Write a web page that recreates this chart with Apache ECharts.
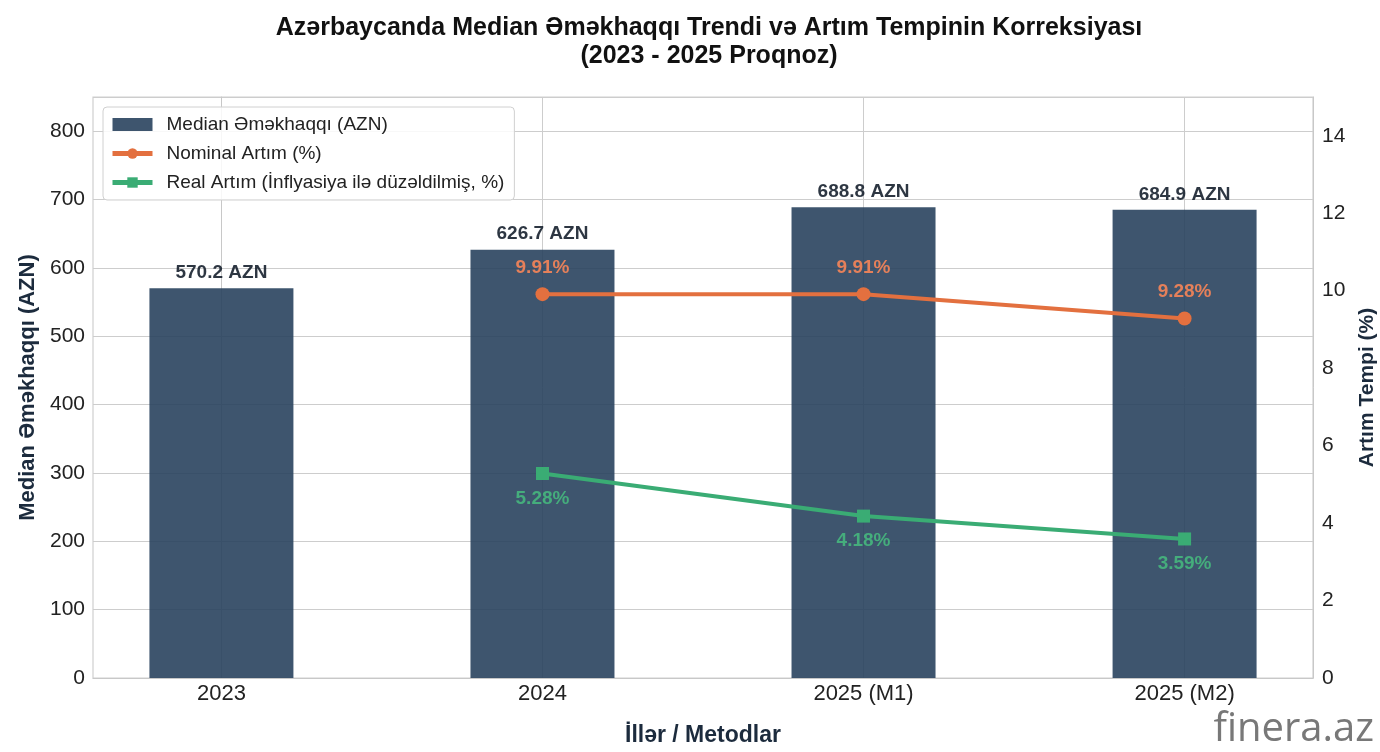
<!DOCTYPE html>
<html>
<head>
<meta charset="utf-8">
<script src="https://cdn.jsdelivr.net/npm/echarts@6/dist/echarts.min.js"></script>
<style>html,body{margin:0;padding:0;background:#fff;}#c{width:1380px;height:752px;}</style>
</head>
<body>
<div id="c"></div>
<script>
const categories = ['2023', '2024', '2025 (M1)', '2025 (M2)'];
const medianWage = [570.2, 626.7, 688.8, 684.9];
const nominalGrowth = [null, 9.91, 9.91, 9.28];
const realGrowth = [null, 5.28, 4.18, 3.59];

const FONT = '"Liberation Sans", Arial, sans-serif';
const idx = categories.map((c, i) => i);
const barData = medianWage.map((v, i) => [i, v]);
const nomData = nominalGrowth.map((v, i) => v == null ? null : [i, v]).filter(d => d);
const realData = realGrowth.map((v, i) => v == null ? null : [i, v]).filter(d => d);

const chart = echarts.init(document.getElementById('c'), null, {renderer: 'canvas'});
chart.setOption({
  backgroundColor: '#ffffff',
  animation: false,
  textStyle: {fontFamily: FONT},
  title: {
    text: 'Azərbaycanda Median Əməkhaqqı Trendi və Artım Tempinin Korreksiyası\n(2023 - 2025 Proqnoz)',
    left: 704, top: 9, textAlign: 'center',
    textStyle: {fontFamily: FONT, fontSize: 25, fontWeight: 'bold', color: '#111', lineHeight: 28}
  },
  grid: {left: 93, right: 67, top: 97, bottom: 74, show: true, borderColor: '#cfcfcf', borderWidth: 1.2, outerBoundsMode: 'none', containLabel: false},
  legend: {
    orient: 'vertical', left: 103, top: 107,
    padding: [8, 10, 8, 7],
    itemGap: 10, itemWidth: 40, itemHeight: 13,
    backgroundColor: 'rgba(255,255,255,0.85)', borderColor: '#d0d0d0', borderWidth: 1, borderRadius: 4,
    textStyle: {fontFamily: FONT, fontSize: 19, color: '#222', padding: [0, 0, 0, 9]},
    data: [
      {name: 'Median Əməkhaqqı (AZN)', icon: 'rect'},
      {name: 'Nominal Artım (%)', lineStyle: {width: 5}},
      {name: 'Real Artım (İnflyasiya ilə düzəldilmiş, %)', lineStyle: {width: 5}}
    ]
  },
  xAxis: {
    type: 'value', min: -0.4, max: 3.4,
    name: 'İllər / Metodlar', nameLocation: 'middle', nameGap: 46,
    nameTextStyle: {fontFamily: FONT, fontSize: 23, fontWeight: 'bold', color: '#1c2b3d'},
    axisLine: {show: true, lineStyle: {color: '#c8c8c8'}},
    axisTick: {show: false},
    splitLine: {show: false},
    axisLabel: {
      customValues: idx, fontSize: 22, color: '#222', margin: 5,
      formatter: v => categories[Math.round(v)]
    }
  },
  yAxis: [
    {
      type: 'value', min: 0, max: 850, interval: 100,
      name: 'Median Əməkhaqqı (AZN)', nameLocation: 'middle', nameGap: 53,
      nameTextStyle: {fontFamily: FONT, fontSize: 22, fontWeight: 'bold', color: '#1c2b3d'},
      axisLine: {show: true, lineStyle: {color: '#c8c8c8'}},
      axisTick: {show: false},
      axisLabel: {fontSize: 21, color: '#222', margin: 8, showMaxLabel: false},
      splitLine: {show: true, lineStyle: {color: '#cdcdcd', width: 1}}
    },
    {
      type: 'value', min: 0, max: 15, interval: 2,
      name: 'Artım Tempi (%)', nameLocation: 'middle', nameGap: 42,
      nameTextStyle: {fontFamily: FONT, fontSize: 21, fontWeight: 'bold', color: '#1c2b3d'},
      axisLine: {show: true, lineStyle: {color: '#c8c8c8'}},
      axisTick: {show: false},
      axisLabel: {fontSize: 21, color: '#222', margin: 9, showMaxLabel: false},
      splitLine: {show: false}
    }
  ],
  series: [
    {
      name: 'vgrid', type: 'scatter', data: [], silent: true, z: 0,
      markLine: {
        silent: true, symbol: 'none', label: {show: false}, z: 0,
        lineStyle: {color: '#cdcdcd', width: 1, type: 'solid'},
        data: idx.map(i => ({xAxis: i}))
      }
    },
    {
      name: 'Median Əməkhaqqı (AZN)', type: 'bar', data: barData, barWidth: 144,
      itemStyle: {color: '#29435e', opacity: 0.9},
      label: {
        show: true, position: 'top', distance: 6,
        fontFamily: FONT, fontSize: 19, fontWeight: 'bold', color: '#16202e',
        formatter: p => p.value[1].toFixed(1) + ' AZN'
      },
      z: 2
    },
    {
      name: 'Nominal Artım (%)', type: 'line', yAxisIndex: 1, data: nomData,
      symbol: 'circle', symbolSize: 14,
      lineStyle: {color: '#e3703f', width: 4},
      itemStyle: {color: '#e3703f'},
      label: {
        show: true, position: 'top', distance: 10,
        fontFamily: FONT, fontSize: 19, fontWeight: 'bold', color: '#e5805a',
        formatter: p => p.value[1].toFixed(2) + '%'
      },
      z: 5
    },
    {
      name: 'Real Artım (İnflyasiya ilə düzəldilmiş, %)', type: 'line', yAxisIndex: 1, data: realData,
      symbol: 'rect', symbolSize: 13,
      lineStyle: {color: '#3aac74', width: 4},
      itemStyle: {color: '#3aac74'},
      label: {
        show: true, position: 'bottom', distance: 9,
        fontFamily: FONT, fontSize: 19, fontWeight: 'bold', color: '#45ad7c',
        formatter: p => p.value[1].toFixed(2) + '%'
      },
      z: 5
    }
  ],
  graphic: [
    {
      type: 'text', right: 6, bottom: 2,
      style: {text: 'finera.az', fontFamily: '"Open Sans", "Noto Sans", sans-serif', fontSize: 40, fill: '#787878'}
    }
  ]
});
</script>
</body>
</html>
